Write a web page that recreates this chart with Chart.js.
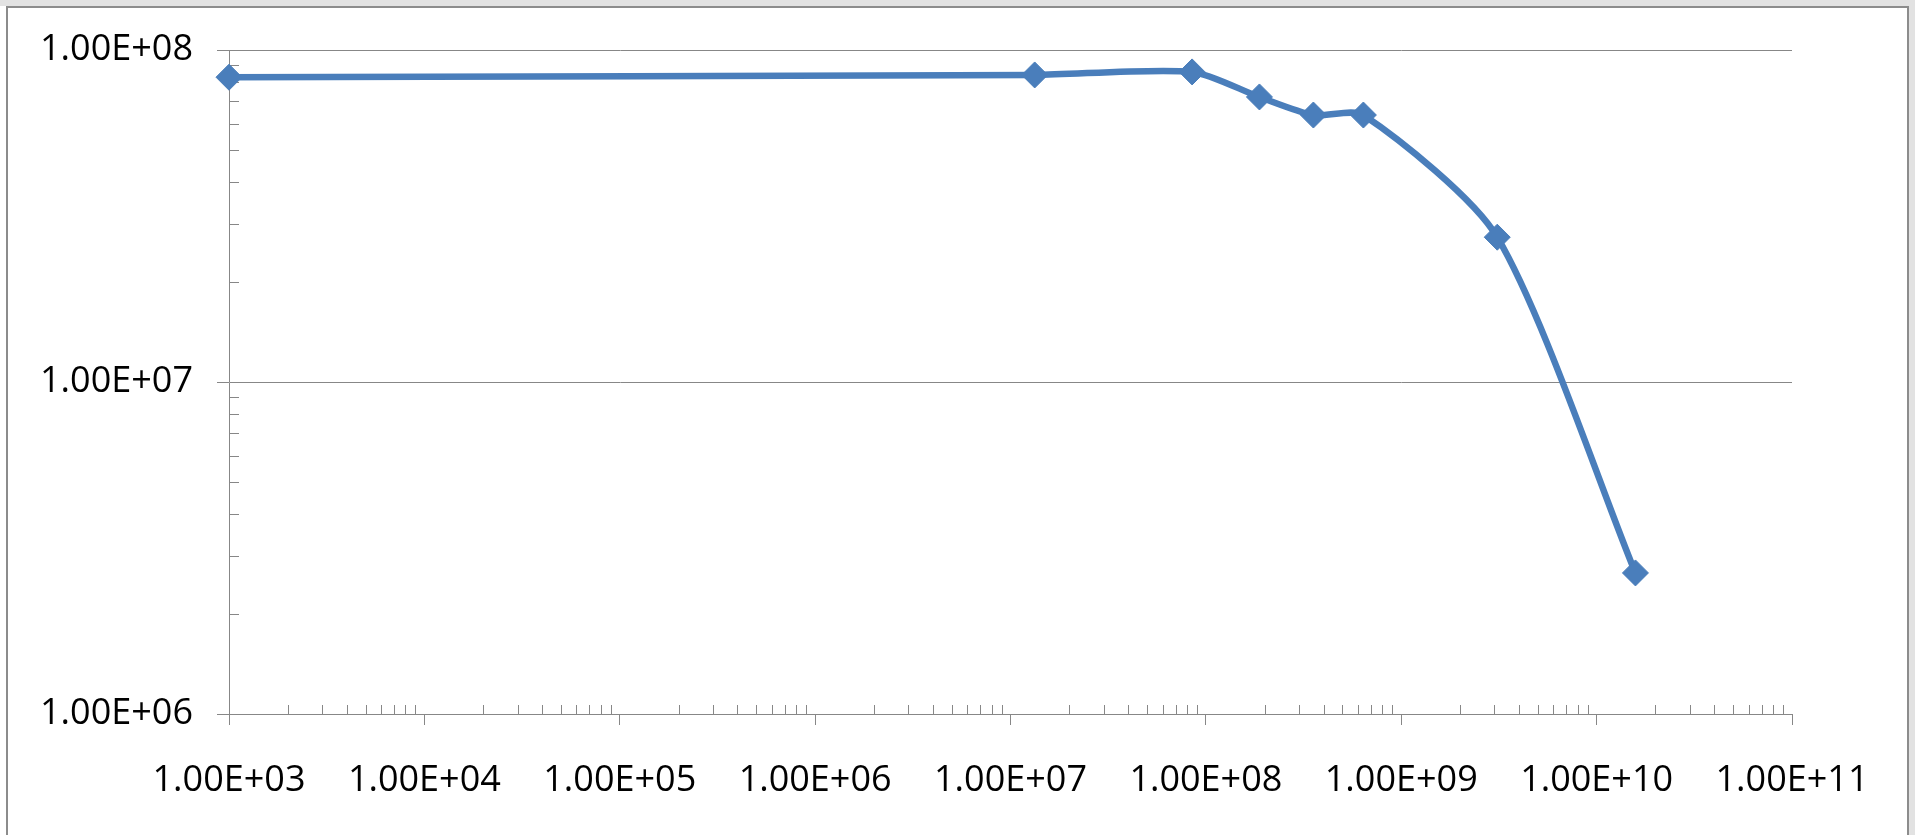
<!DOCTYPE html>
<html>
<head>
<meta charset="utf-8">
<script src="https://cdn.jsdelivr.net/npm/chart.js@4/dist/chart.umd.min.js"></script>
<style>
html,body{margin:0;padding:0;background:#fff;overflow:hidden}
#wrap{width:1915px;height:835px;position:relative}
</style>
</head>
<body>
<div id="wrap"><canvas id="c" width="1915" height="835"></canvas></div>
<script>
// ---- data ----
const xValues = [1.0e3, 1.33e7, 8.5e7, 1.88e8, 3.55e8, 6.4e8, 3.1e9, 1.58e10];
const yValues = [8.28e7, 8.41e7, 8.59e7, 7.22e7, 6.37e7, 6.37e7, 2.73e7, 2.66e6];

// ---- axis ticks ----
const xTickExponents = [3, 4, 5, 6, 7, 8, 9, 10, 11];
const xTickLabels = ['1.00E+03','1.00E+04','1.00E+05','1.00E+06','1.00E+07','1.00E+08','1.00E+09','1.00E+10','1.00E+11'];
const yTickExponents = [6, 7, 8];
const yTickLabels = ['1.00E+06','1.00E+07','1.00E+08'];
const minorMultipliers = [2, 3, 4, 5, 6, 7, 8, 9];

function buildLogTicks(exps) {
  const t = [];
  exps.forEach((e, i) => {
    t.push({ value: Math.pow(10, e), major: true });
    if (i < exps.length - 1) {
      minorMultipliers.forEach(m => t.push({ value: m * Math.pow(10, e), major: false }));
    }
  });
  return t;
}
function isMajorVal(v) {
  const l = Math.log10(v);
  return Math.abs(l - Math.round(l)) < 1e-9;
}
function labelFor(v, exps, labels) {
  if (!isMajorVal(v)) return '';
  const idx = exps.indexOf(Math.round(Math.log10(v)));
  return idx >= 0 ? labels[idx] : '';
}

const points = xValues.map((x, i) => ({ x: x, y: yValues[i] }));

const AXIS_COLOR = '#878787';
const FONT = { family: "'Open Sans', 'Liberation Sans', sans-serif", size: 36 };

const framePlugin = {
  id: 'frame',
  beforeDraw(chart) {
    const ctx = chart.ctx;
    ctx.save();
    ctx.fillStyle = '#ffffff';
    ctx.fillRect(0, 0, chart.width, chart.height);
    ctx.fillStyle = '#e2e2e2';
    ctx.fillRect(0, 0, chart.width, 6);
    ctx.fillRect(1909, 0, chart.width - 1909, chart.height);
    ctx.strokeStyle = '#8c8c8c';
    ctx.lineWidth = 2;
    ctx.strokeRect(7, 7, 1901, 840);
    ctx.restore();
  }
};

const minorTickPlugin = {
  id: 'minorTicks',
  beforeDatasetsDraw(chart) {
    const ctx = chart.ctx;
    const xs = chart.scales.x, ys = chart.scales.y;
    const area = chart.chartArea;
    ctx.save();
    ctx.strokeStyle = AXIS_COLOR;
    ctx.lineWidth = 1;
    ctx.beginPath();
    xs.ticks.forEach(t => {
      if (isMajorVal(t.value)) return;
      const px = Math.round(xs.getPixelForValue(t.value)) + 0.5;
      ctx.moveTo(px, area.bottom);
      ctx.lineTo(px, area.bottom - 9);
    });
    ys.ticks.forEach(t => {
      if (isMajorVal(t.value)) return;
      const py = Math.round(ys.getPixelForValue(t.value)) + 0.5;
      ctx.moveTo(area.left, py);
      ctx.lineTo(area.left + 10, py);
    });
    ctx.stroke();
    ctx.restore();
  }
};

new Chart(document.getElementById('c'), {
  type: 'line',
  data: {
    datasets: [{
      data: points,
      borderColor: '#4a7ebb',
      backgroundColor: '#4a7ebb',
      borderWidth: 6.5,
      tension: 0.25,
      pointStyle: 'rectRot',
      pointRadius: 13,
      pointBorderWidth: 1,
      pointBackgroundColor: '#4a7ebb',
      pointBorderColor: '#4a7ebb',
      fill: false,
      clip: false
    }]
  },
  options: {
    responsive: false,
    animation: false,
    devicePixelRatio: 1,
    layout: { padding: { left: 0, top: 50, right: 123, bottom: 0 } },
    plugins: { legend: { display: false }, tooltip: { enabled: false }, title: { display: false } },
    scales: {
      x: {
        type: 'logarithmic',
        min: Math.pow(10, xTickExponents[0]),
        max: Math.pow(10, xTickExponents[xTickExponents.length - 1]),
        afterBuildTicks(scale) { scale.ticks = buildLogTicks(xTickExponents); },
        afterFit(scale) { scale.height = 121; },
        border: { display: true, color: AXIS_COLOR, width: 1 },
        grid: {
          drawOnChartArea: false,
          drawTicks: true,
          tickLength: 11,
          color: (c) => (c.tick && isMajorVal(c.tick.value)) ? AXIS_COLOR : 'rgba(0,0,0,0)'
        },
        ticks: {
          autoSkip: false,
          maxRotation: 0,
          minRotation: 0,
          padding: 34,
          color: '#000',
          font: FONT,
          callback: (v) => labelFor(v, xTickExponents, xTickLabels)
        }
      },
      y: {
        type: 'logarithmic',
        min: Math.pow(10, yTickExponents[0]),
        max: Math.pow(10, yTickExponents[yTickExponents.length - 1]),
        afterBuildTicks(scale) { scale.ticks = buildLogTicks(yTickExponents); },
        afterFit(scale) { scale.width = 229; },
        border: { display: true, color: AXIS_COLOR, width: 1 },
        grid: {
          drawOnChartArea: true,
          drawTicks: true,
          tickLength: 12,
          color: (c) => (c.tick && isMajorVal(c.tick.value)) ? AXIS_COLOR : 'rgba(0,0,0,0)'
        },
        ticks: {
          autoSkip: false,
          padding: 24,
          color: '#000',
          font: FONT,
          callback: (v) => labelFor(v, yTickExponents, yTickLabels)
        }
      }
    }
  },
  plugins: [framePlugin, minorTickPlugin]
});
</script>
</body>
</html>
